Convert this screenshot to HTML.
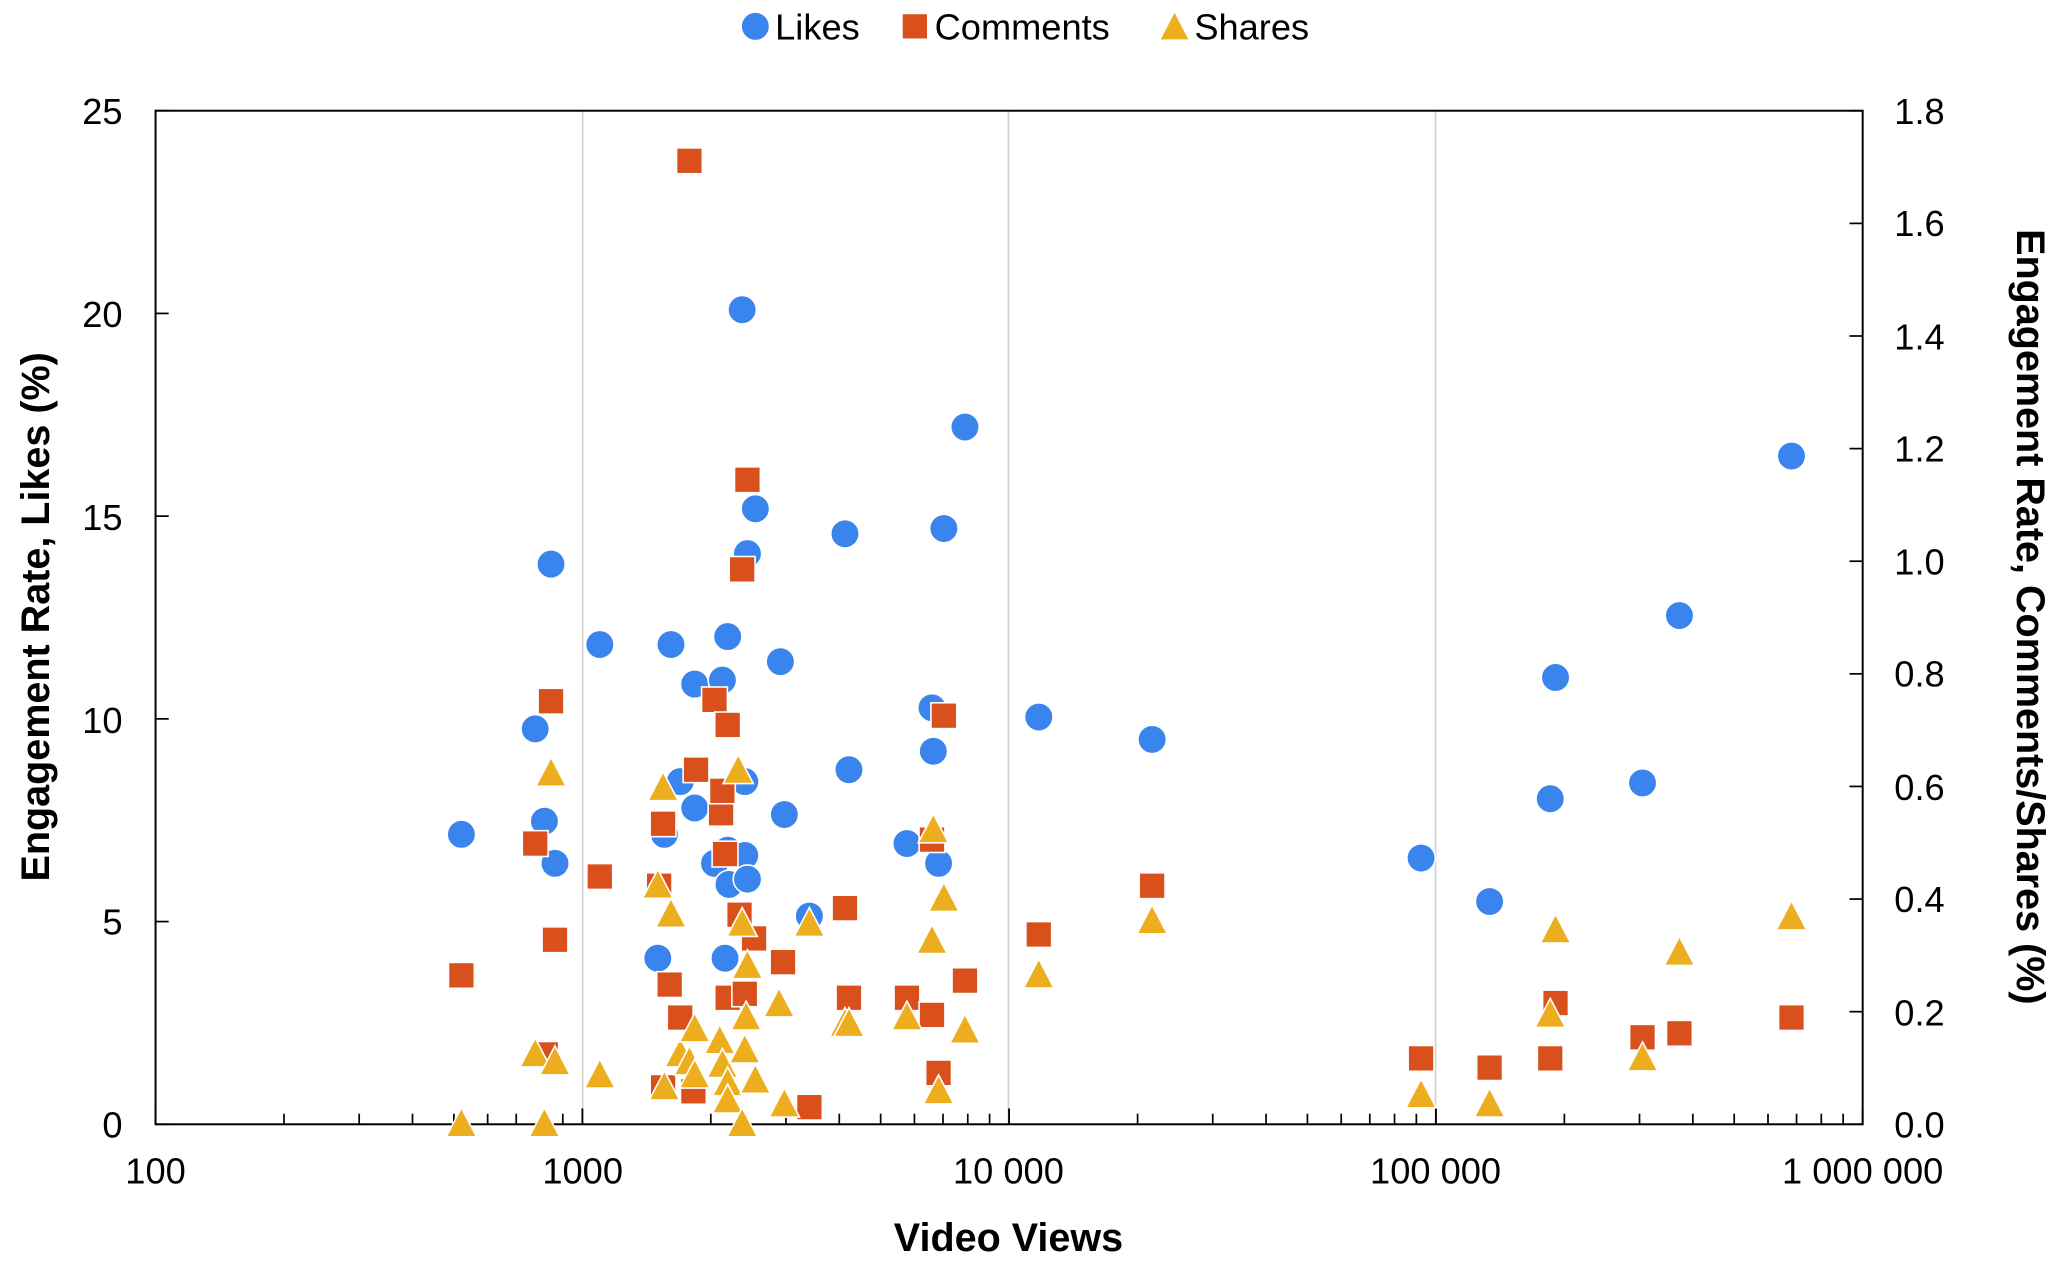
<!DOCTYPE html>
<html><head><meta charset="utf-8"><style>
html,body{margin:0;padding:0;background:#fff;}
svg{display:block;}
text{font-family:"Liberation Sans",Arial,sans-serif;fill:#000;}
</style></head><body>
<svg width="2067" height="1264" viewBox="0 0 1568 959" preserveAspectRatio="none" xmlns="http://www.w3.org/2000/svg">
<defs>
<circle id="c" r="10.8" fill="#3a84ee" stroke="#fff" stroke-width="1.2"/>
<rect id="s" x="-9.8" y="-9.8" width="19.6" height="19.6" fill="#d9501d" stroke="#fff" stroke-width="1.2"/>
<polygon id="t" points="0,-12.5 11.5,9.5 -11.5,9.5" fill="#ecae1f" stroke="#fff" stroke-width="1.2"/>
</defs>
<g stroke="#d0d0d0" stroke-width="1.2">
<line x1="442" y1="84" x2="442" y2="853"/><line x1="765" y1="84" x2="765" y2="853"/><line x1="1089" y1="84" x2="1089" y2="853"/>
</g>
<rect x="118" y="84" width="1295" height="769" fill="none" stroke="#000" stroke-width="1.5"/>
<g stroke="#000" stroke-width="1.3" id="ticks"></g>
<use href="#c" x="573" y="20"/><text x="588" y="30" font-size="27.5">Likes</text>
<use href="#s" x="694" y="20"/><text x="709" y="30" font-size="27.5">Comments</text>
<use href="#t" x="891" y="21"/><text x="906" y="30" font-size="27.5">Shares</text>
<g font-size="27.5" text-anchor="end">
<text x="93" y="94">25</text><text x="93" y="248">20</text><text x="93" y="402">15</text><text x="93" y="556">10</text><text x="93" y="709">5</text><text x="93" y="863">0</text>
</g>
<g font-size="27.5" text-anchor="start">
<text x="1437" y="94">1.8</text><text x="1437" y="179">1.6</text><text x="1437" y="265">1.4</text><text x="1437" y="350">1.2</text><text x="1437" y="436">1.0</text><text x="1437" y="521">0.8</text><text x="1437" y="607">0.6</text><text x="1437" y="692">0.4</text><text x="1437" y="778">0.2</text><text x="1437" y="863">0.0</text>
</g>
<g font-size="27.5" text-anchor="middle">
<text x="118" y="898">100</text><text x="442" y="898">1000</text><text x="765" y="898">10 000</text><text x="1089" y="898">100 000</text><text x="1413" y="898">1 000 000</text>
</g>
<text x="765" y="949" font-size="30" font-weight="bold" text-anchor="middle">Video Views</text>
<text transform="translate(37,468) rotate(-90)" font-size="30" font-weight="bold" text-anchor="middle">Engagement Rate, Likes (%)</text>
<text transform="translate(1530,468) rotate(90)" font-size="30" font-weight="bold" text-anchor="middle">Engagement Rate, Comments/Shares (%)</text>
<g id="pts"></g>
</svg>
<script>
var NS="http://www.w3.org/2000/svg";
var tk=document.getElementById("ticks");
function ln(a,b,c,d){var l=document.createElementNS(NS,"line");l.setAttribute("x1",a);l.setAttribute("y1",b);l.setAttribute("x2",c);l.setAttribute("y2",d);tk.appendChild(l);}
for(var d=0;d<4;d++){for(var m=1;m<=10;m++){var x=118+323.75*(d+Math.log10(m));ln(x,853,x,m==1||m==10?841:845);}}
for(var i=0;i<=5;i++){var y=853-i*153.8;ln(118,y,128,y);}
for(var i=0;i<=9;i++){var y=853-i*85.44;ln(1413,y,1403,y);}
var L=[[350,633],[406,553],[413,623],[418,428],[421,655],[455,489],[499,727],[504,633],[509,489],[516,593],[527,519],[527,613],[542,655],[548,516],[550,727],[552,483],[552,645],[553,671],[563,235],[565,593],[565,649],[567,420],[567,667],[573,386],[592,502],[595,618],[614,695],[641,405],[644,584],[688,640],[707,537],[708,570],[712,655],[716,401],[732,324],[788,544],[874,561],[1078,651],[1130,684],[1176,606],[1180,514],[1246,594],[1274,467],[1359,346]];
var C=[[350,740],[406,640],[414,800],[418,532],[421,713],[455,665],[503,625],[500,672],[508,747],[516,772],[503,825],[526,828],[528,584],[523,122],[542,531],[547,617],[548,600],[550,648],[552,550],[552,757],[561,694],[563,432],[567,364],[565,754],[572,712],[594,730],[614,840],[641,689],[644,757],[688,757],[707,770],[707,637],[712,814],[716,543],[732,744],[788,709],[874,672],[1078,803],[1130,810],[1176,803],[1180,761],[1246,787],[1274,784],[1359,772]];
var T=[[350,853],[406,800],[413,853],[418,587],[421,806],[455,816],[499,672],[503,598],[509,694],[504,825],[516,800],[523,806],[527,781],[527,816],[546,790],[548,808],[552,822],[552,835],[560,585],[563,701],[563,853],[565,797],[566,772],[567,733],[573,820],[591,762],[595,838],[614,701],[641,777],[644,777],[688,772],[707,714],[708,630],[712,828],[716,682],[732,782],[788,740],[874,699],[1078,831],[1130,838],[1176,770],[1180,706],[1246,803],[1274,723],[1359,696]];
var g=document.getElementById("pts");
function put(arr,id){arr.forEach(function(p){var u=document.createElementNS(NS,"use");u.setAttribute("href","#"+id);u.setAttribute("x",p[0]);u.setAttribute("y",p[1]);g.appendChild(u);});}
put(L,"c");put(C,"s");put(T,"t");
</script>
</body></html>
